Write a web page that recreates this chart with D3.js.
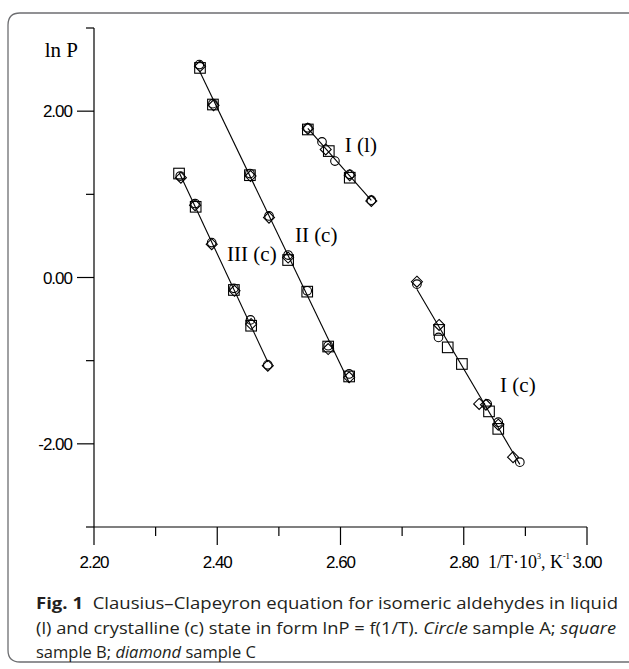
<!DOCTYPE html>
<html><head><meta charset="utf-8">
<script src="https://cdn.jsdelivr.net/npm/d3@7"></script>
<style>html,body{margin:0;padding:0;background:#fff;}svg{display:block;}</style>
</head><body>
<script>
// ---- data ----
const xTicksMajor = [2.20, 2.40, 2.60, 2.80, 3.00];
const xTicksMinor = [2.30, 2.50, 2.70, 2.90];
const yTicksMajor = [2.00, 0.00, -2.00];
const yTicksMinor = [3, 1, -1, -3];
const seriesNames = ["I (l)", "II (c)", "III (c)", "I (c)"];

// circle = sample A, square = sample B, diamond = sample C
const circleA = [
  [[2.547,1.80],[2.570,1.63],[2.591,1.40],[2.615,1.24],[2.650,0.93]],
  [[2.371,2.56],[2.393,2.09],[2.453,1.25],[2.484,0.74],[2.515,0.27],[2.546,-0.16],[2.580,-0.82],[2.614,-1.16]],
  [[2.340,1.22],[2.364,0.89],[2.391,0.42],[2.427,-0.13],[2.454,-0.51],[2.482,-1.05]],
  [[2.724,-0.08],[2.759,-0.72],[2.838,-1.52],[2.856,-1.74],[2.891,-2.22]]
];
const squareB = [
  [[2.547,1.78],[2.581,1.52],[2.615,1.20]],
  [[2.372,2.52],[2.393,2.08],[2.453,1.23],[2.515,0.21],[2.546,-0.17],[2.580,-0.83],[2.614,-1.19]],
  [[2.338,1.25],[2.365,0.85],[2.427,-0.15],[2.455,-0.58]],
  [[2.760,-0.63],[2.774,-0.84],[2.797,-1.04],[2.841,-1.61],[2.856,-1.82]]
];
const diamondC = [
  [[2.547,1.79],[2.576,1.54],[2.615,1.23],[2.650,0.92]],
  [[2.372,2.54],[2.394,2.07],[2.454,1.22],[2.484,0.72],[2.515,0.24],[2.580,-0.86],[2.614,-1.20]],
  [[2.341,1.20],[2.364,0.87],[2.391,0.40],[2.428,-0.16],[2.455,-0.56],[2.482,-1.06]],
  [[2.724,-0.05],[2.760,-0.57],[2.825,-1.52],[2.836,-1.53],[2.856,-1.77],[2.880,-2.16]]
];
const labelPos = [[2.607,1.51],[2.526,0.43],[2.416,0.20],[2.859,-1.38]];

// ---- drawing ----
const W = 629, H = 669;
const svg = d3.select("body").append("svg").attr("width", W).attr("height", H);

// frame
svg.append("path")
  .attr("d", "M640,13 H20 Q8,13 8,25 V650 Q8,662 20,662 H640")
  .attr("fill", "none").attr("stroke", "#6d6e71").attr("stroke-width", 1.3);

const x = d3.scaleLinear().domain([2.2, 3.0]).range([94, 587]);
const y = d3.scaleLinear().domain([-3, 3]).range([527, 28]);

const g = svg.append("g");
g.append("line").attr("x1", x(2.2)).attr("x2", x(2.2)).attr("y1", y(3)).attr("y2", y(-3))
  .attr("stroke", "#000").attr("stroke-width", 1.2);
g.append("line").attr("x1", x(2.2)).attr("x2", x(3.0)).attr("y1", y(-3)).attr("y2", y(-3))
  .attr("stroke", "#000").attr("stroke-width", 1.2);

// x ticks
g.selectAll(".xmaj").data(xTicksMajor).join("line")
  .attr("x1", d => x(d)).attr("x2", d => x(d)).attr("y1", y(-3)).attr("y2", y(-3) + 18)
  .attr("stroke", "#000").attr("stroke-width", 1.2);
g.selectAll(".xmin").data(xTicksMinor).join("line")
  .attr("x1", d => x(d)).attr("x2", d => x(d)).attr("y1", y(-3)).attr("y2", y(-3) + 9)
  .attr("stroke", "#000").attr("stroke-width", 1.2);
g.selectAll(".xlab").data(xTicksMajor).join("text")
  .attr("x", d => x(d)).attr("y", 568)
  .attr("text-anchor", "middle")
  .attr("font-family", "Liberation Sans, Arial, sans-serif").attr("font-size", 17)
  .attr("letter-spacing", -1)
  .text(d => d.toFixed(2));

// y ticks
g.selectAll(".ymaj").data(yTicksMajor).join("line")
  .attr("x1", x(2.2) - 17).attr("x2", x(2.2)).attr("y1", d => y(d)).attr("y2", d => y(d))
  .attr("stroke", "#000").attr("stroke-width", 1.2);
g.selectAll(".ymin").data(yTicksMinor).join("line")
  .attr("x1", x(2.2) - 8).attr("x2", x(2.2)).attr("y1", d => y(d)).attr("y2", d => y(d))
  .attr("stroke", "#000").attr("stroke-width", 1.2);
g.selectAll(".ylab").data(yTicksMajor).join("text")
  .attr("x", 72).attr("y", d => y(d) + 6)
  .attr("text-anchor", "end")
  .attr("font-family", "Liberation Sans, Arial, sans-serif").attr("font-size", 17)
  .attr("letter-spacing", -1)
  .text(d => d.toFixed(2));

// axis titles
g.append("text").attr("x", 78).attr("y", 57).attr("text-anchor", "end")
  .attr("font-family", "Liberation Serif, Times New Roman, serif").attr("font-size", 21)
  .text("ln P");
const xt = g.append("text").attr("x", 488).attr("y", 568)
  .attr("font-family", "Liberation Serif, Times New Roman, serif").attr("font-size", 18);
xt.append("tspan").text("1/T·10");
xt.append("tspan").attr("font-size", 8).attr("dy", -9).text("3");
xt.append("tspan").attr("dy", 9).text(", K");
xt.append("tspan").attr("font-size", 8).attr("dy", -9).text("-1");

// regression lines
const all = seriesNames.map((n, i) => circleA[i].concat(squareB[i], diamondC[i]));
all.forEach(pts => {
  const mx = d3.mean(pts, p => p[0]), my = d3.mean(pts, p => p[1]);
  const b = d3.sum(pts, p => (p[0]-mx)*(p[1]-my)) / d3.sum(pts, p => (p[0]-mx)**2);
  const x0 = d3.min(pts, p => p[0]), x1 = d3.max(pts, p => p[0]);
  g.append("line")
    .attr("x1", x(x0)).attr("y1", y(my + b*(x0-mx)))
    .attr("x2", x(x1)).attr("y2", y(my + b*(x1-mx)))
    .attr("stroke", "#000").attr("stroke-width", 1.1);
});

// markers
const mk = g.append("g").attr("fill", "none").attr("stroke", "#000").attr("stroke-width", 1.1);
circleA.forEach(s => mk.selectAll(null).data(s).join("circle")
  .attr("cx", d => x(d[0])).attr("cy", d => y(d[1])).attr("r", 4.3));
squareB.forEach(s => mk.selectAll(null).data(s).join("rect")
  .attr("x", d => x(d[0]) - 5.3).attr("y", d => y(d[1]) - 5.3).attr("width", 10.6).attr("height", 10.6));
diamondC.forEach(s => mk.selectAll(null).data(s).join("path")
  .attr("d", d => { const cx = x(d[0]), cy = y(d[1]); return `M${cx},${cy-5.5}L${cx+5.5},${cy}L${cx},${cy+5.5}L${cx-5.5},${cy}Z`; }));

// series labels
g.selectAll(".slab").data(seriesNames).join("text")
  .attr("x", (d, i) => x(labelPos[i][0])).attr("y", (d, i) => y(labelPos[i][1]))
  .attr("font-family", "Liberation Serif, Times New Roman, serif").attr("font-size", 21)
  .text(d => d);

// caption
const cap = svg.append("g").attr("font-family", "Open Sans, Noto Sans, sans-serif")
  .attr("font-size", 16.5).attr("fill", "#231f20");
const l1 = cap.append("text").attr("x", 36).attr("y", 609).attr("textLength", 582).attr("lengthAdjust", "spacingAndGlyphs");
l1.append("tspan").attr("font-weight", "bold").text("Fig. 1");
l1.append("tspan").text("\u00a0 Clausius–Clapeyron equation for isomeric aldehydes in liquid");
const l2 = cap.append("text").attr("x", 36).attr("y", 634).attr("textLength", 580).attr("lengthAdjust", "spacingAndGlyphs");
l2.append("tspan").text("(l) and crystalline (c) state in form lnP = f(1/T). ");
l2.append("tspan").attr("font-style", "italic").text("Circle");
l2.append("tspan").text(" sample A; ");
l2.append("tspan").attr("font-style", "italic").text("square");
const l3 = cap.append("text").attr("x", 36).attr("y", 658);
l3.append("tspan").text("sample B; ");
l3.append("tspan").attr("font-style", "italic").text("diamond");
l3.append("tspan").text(" sample C");
</script>
</body></html>
